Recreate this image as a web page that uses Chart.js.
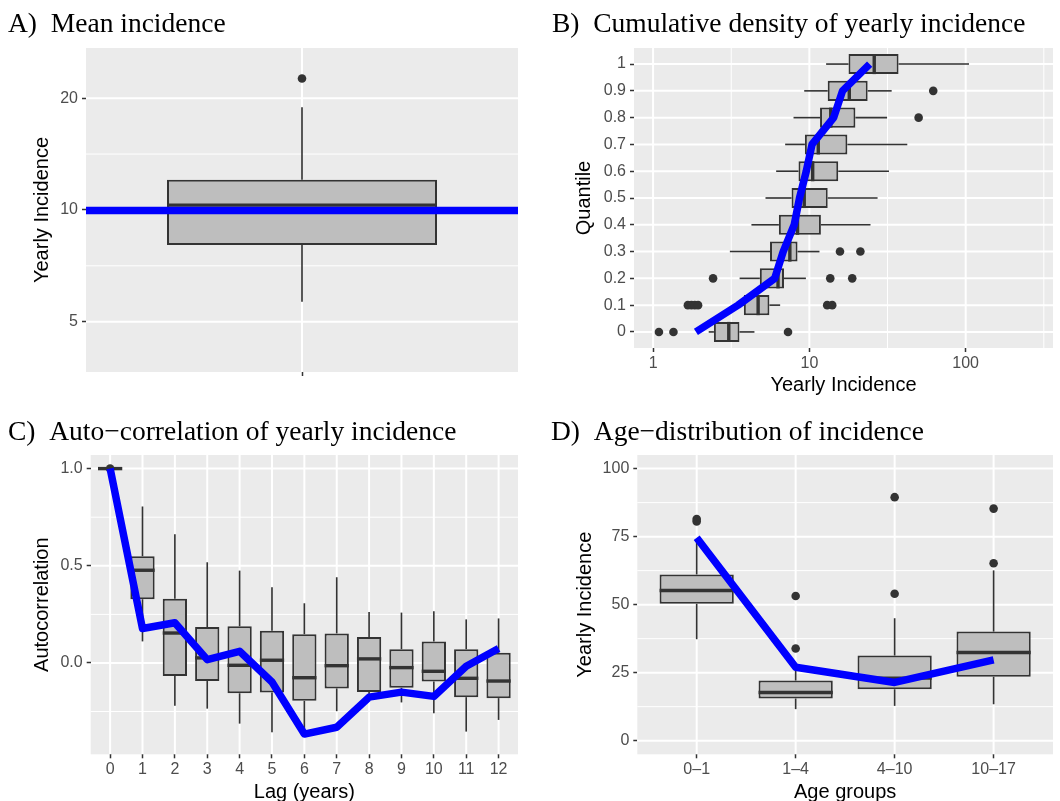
<!DOCTYPE html>
<html>
<head>
<meta charset="utf-8">
<title>Incidence panels</title>
<script src="https://cdn.jsdelivr.net/npm/chart.js@4.4.1/dist/chart.umd.min.js"></script>
<style>
  body { margin: 0; background: #ffffff; width: 1060px; height: 801px; overflow: hidden; position: relative; }
  canvas { position: absolute; }
</style>
</head>
<body>
<canvas id="chartA" width="530" height="400" style="left:0;top:0"></canvas>
<canvas id="chartB" width="530" height="400" style="left:530px;top:0"></canvas>
<canvas id="chartC" width="530" height="410" style="left:0;top:400px"></canvas>
<canvas id="chartD" width="530" height="410" style="left:530px;top:400px"></canvas>
<script>
// A) Mean incidence - one box on a log axis
const meanLow = [5.66];
const meanQ1 = [8.04];
const meanMedian = [10.3];
const meanQ3 = [12.05];
const meanHigh = [18.9];
const meanOutliers = [22.6];
const meanLine = 9.96;
const meanTicks = [5, 10, 20];
const meanMinor = [7.071, 14.142];
const meanYRange = [3.66, 27.3];
const meanXRange = [-0.6, 0.6];
const meanCats = [''];

// B) Cumulative density - one horizontal box per quantile
const quantLabels = ['0', '0.1', '0.2', '0.3', '0.4', '0.5', '0.6', '0.7', '0.8', '0.9', '1'];
const quantLow    = [2.27, 3.55, 3.58, 3.1, 4.26, 5.24, 6.13, 7.0, 7.92, 9.27, 12.8];
const quantQ1     = [2.45, 3.81, 4.82, 5.6, 6.38, 7.69, 8.52, 9.36, 11.7, 13.1, 17.8];
const quantMedian = [3.05, 4.7, 6.3, 7.5, 8.4, 9.27, 10.5, 11.4, 13.7, 18.0, 26.0];
const quantQ3     = [3.57, 5.55, 6.88, 8.4, 11.85, 13.1, 15.3, 17.5, 19.7, 23.6, 37.2];
const quantHigh   = [4.45, 6.5, 9.5, 11.6, 24.6, 27.3, 32.3, 42.3, 31.4, 33.6, 105];
const quantMean   = [1.88, 3.5, 6.0, 6.8, 8.0, 8.65, 9.55, 10.4, 14.3, 16.3, 24.3];
const quantOutRow = [0, 0, 0, 1, 1, 1, 1, 1, 1, 2, 2, 2, 3, 3, 8, 9];
const quantOutVal = [1.09, 1.35, 7.3, 1.67, 1.76, 1.85, 1.94, 13.0, 14.0, 2.42, 13.6, 18.8, 15.7, 21.2, 50, 62];
const quantTicks = [1, 10, 100];
const quantMinor = [3.162, 31.62, 316.2];
const quantXRange = [0.755, 362];

// C) Auto-correlation by lag
const lagLabels = ['0', '1', '2', '3', '4', '5', '6', '7', '8', '9', '10', '11', '12'];
const lagLow    = [1, 0.111, -0.22, -0.235, -0.312, -0.357, -0.36, -0.248, -0.17, -0.203, -0.259, -0.353, -0.293];
const lagQ1     = [1, 0.328, -0.067, -0.093, -0.156, -0.152, -0.195, -0.131, -0.15, -0.128, -0.095, -0.176, -0.181];
const lagMedian = [1, 0.477, 0.154, 0.026, -0.012, 0.014, -0.076, -0.014, 0.021, -0.024, -0.043, -0.079, -0.093];
const lagQ3     = [1, 0.549, 0.331, 0.185, 0.189, 0.166, 0.148, 0.152, 0.134, 0.071, 0.11, 0.071, 0.053];
const lagHigh   = [1, 0.805, 0.662, 0.518, 0.475, 0.39, 0.307, 0.441, 0.262, 0.259, 0.266, 0.224, 0.229];
const lagMean   = [1.0, 0.177, 0.207, 0.017, 0.06, -0.098, -0.366, -0.331, -0.176, -0.15, -0.172, -0.017, 0.074];
const lagOutIdx = [0];
const lagOutVal = [1.0];
const lagTicks = [0, 0.5, 1.0];
const lagMinor = [-0.25, 0.25, 0.75];
const lagYRange = [-0.47, 1.07];

// D) Age distribution
const ageGroups = ['0–1', '1–4', '4–10', '10–17'];
const ageLow    = [37.3, 11.6, 12.8, 13.4];
const ageQ1     = [50.3, 15.5, 18.9, 23.5];
const ageMedian = [55.2, 17.7, 23.0, 32.4];
const ageQ3     = [61.1, 22.1, 31.3, 40.1];
const ageHigh   = [73, 26, 45.0, 62.6];
const ageMean   = [74.6, 27.0, 21.4, 29.7];
const ageOutIdx = [0, 0, 1, 1, 2, 2, 3, 3];
const ageOutVal = [81.5, 80.6, 53.2, 33.9, 89.5, 54.0, 85.3, 65.2];
const ageTicks = [0, 25, 50, 75, 100];
const ageMinor = [12.5, 37.5, 62.5, 87.5];
const ageYRange = [-5, 105];

const SANS = '"Liberation Sans", Arial, Helvetica, sans-serif';
const SERIF = '"Liberation Serif", "Times New Roman", serif';
Chart.defaults.font.family = SANS;
Chart.defaults.animation = false;

// grey panel with white grid lines along the value axis, drawn under everything
const panelBackground = {
  id: 'panelBackground',
  beforeDraw(chart, args, opts) {
    const { ctx, chartArea: a, scales } = chart;
    const vLine = px => { ctx.beginPath(); ctx.moveTo(px, a.top); ctx.lineTo(px, a.bottom); ctx.stroke(); };
    const hLine = py => { ctx.beginPath(); ctx.moveTo(a.left, py); ctx.lineTo(a.right, py); ctx.stroke(); };
    ctx.save();
    ctx.fillStyle = '#EBEBEB';
    ctx.fillRect(a.left, a.top, a.right - a.left, a.bottom - a.top);
    ctx.strokeStyle = '#FFFFFF';
    ctx.lineWidth = 1;
    (opts.xMinor || []).forEach(v => vLine(scales.x.getPixelForValue(v)));
    (opts.yMinor || []).forEach(v => hLine(scales.y.getPixelForValue(v)));
    ctx.lineWidth = 2;
    (opts.xMajor || []).forEach(v => vLine(scales.x.getPixelForValue(v)));
    (opts.yMajor || []).forEach(v => hLine(scales.y.getPixelForValue(v)));
    ctx.restore();
  }
};

// category grid lines (outside each box), then whiskers and medians, right after the bars
const boxWhiskers = {
  id: 'boxWhiskers',
  afterDatasetDraw(chart, args) {
    const ds = chart.data.datasets[args.index];
    if (!ds.stats) return;
    const horizontal = chart.options.indexAxis === 'y';
    const vScale = horizontal ? chart.scales.x : chart.scales.y;
    const a = chart.chartArea;
    const s = ds.stats;
    const ctx = chart.ctx;
    const seg = (c, p1, p2) => {
      ctx.beginPath();
      if (horizontal) { ctx.moveTo(p1, c); ctx.lineTo(p2, c); }
      else { ctx.moveTo(c, p1); ctx.lineTo(c, p2); }
      ctx.stroke();
    };
    ctx.save();
    args.meta.data.forEach((bar, i) => {
      const p = bar.getProps(['x', 'y', 'width', 'height'], true);
      const c = horizontal ? p.y : p.x;
      const half = (horizontal ? p.height : p.width) / 2;
      const hi = vScale.getPixelForValue(s.high[i]);
      const lo = vScale.getPixelForValue(s.low[i]);
      const q1 = vScale.getPixelForValue(s.q1[i]);
      const q3 = vScale.getPixelForValue(s.q3[i]);
      ctx.lineCap = 'butt';
      ctx.strokeStyle = '#FFFFFF';
      ctx.lineWidth = 2;
      if (horizontal) { seg(c, a.left, lo); seg(c, hi, a.right); }
      else { seg(c, a.top, hi); seg(c, lo, a.bottom); }
      ctx.strokeStyle = '#333333';
      ctx.lineWidth = 1.6;
      seg(c, q3, hi);
      seg(c, q1, lo);
      ctx.lineWidth = 3.4;
      const m = vScale.getPixelForValue(s.median[i]);
      ctx.beginPath();
      if (horizontal) { ctx.moveTo(m, c - half); ctx.lineTo(m, c + half); }
      else { ctx.moveTo(c - half, m); ctx.lineTo(c + half, m); }
      ctx.stroke();
    });
    ctx.restore();
  }
};

const indexOf = labels => labels.map((l, i) => i);

function fixedTicks(values) {
  return scale => { scale.ticks = values.map(v => ({ value: v })); };
}

function gridStyle() {
  return {
    drawOnChartArea: false, offset: false,
    tickColor: '#333333', tickWidth: 1.5, tickLength: 4
  };
}

function tickStyle(padding, callback) {
  return { color: '#4D4D4D', font: { size: 16 }, padding: padding, autoSkip: false, maxRotation: 0, callback: callback };
}

function axisTitle(text, padding) {
  return { display: !!text, text: text || '', color: '#000000', font: { size: 20 }, padding: padding };
}

function boxDataset(points, stats, catPct) {
  return {
    type: 'bar',
    order: 3,
    data: points,
    stats: stats,
    backgroundColor: '#BEBEBE',
    borderColor: '#333333',
    borderWidth: 2,
    borderSkipped: false,
    barPercentage: 1,
    categoryPercentage: catPct
  };
}

function outlierDataset(points) {
  return {
    type: 'line',
    order: 2,
    data: points,
    showLine: false,
    pointRadius: 4.3,
    pointBackgroundColor: '#333333',
    pointBorderColor: '#333333',
    pointBorderWidth: 0
  };
}

function meanDataset(points) {
  return {
    type: 'line',
    order: 1,
    data: points,
    borderColor: '#0000FF',
    borderWidth: 7.5,
    borderJoinStyle: 'round',
    borderCapStyle: 'butt',
    pointRadius: 0,
    tension: 0,
    fill: false
  };
}

function baseOptions(title, titlePad, padding, grid, scales, indexAxis) {
  return {
    responsive: false,
    indexAxis: indexAxis || 'x',
    layout: { padding: padding },
    plugins: {
      legend: { display: false },
      tooltip: { enabled: false },
      title: {
        display: true, text: title, align: 'start', color: '#000000',
        font: { family: SERIF, size: 27.5, weight: 'normal' }, padding: titlePad
      },
      panelBackground: grid
    },
    scales: scales
  };
}

const topTitlePad = { top: 8.5, bottom: 6.5 };
const bottomTitlePad = { top: 16.5, bottom: 5.5 };

// ---- A
new Chart(document.getElementById('chartA'), {
  type: 'bar',
  data: {
    datasets: [
      boxDataset(meanQ1.map((q, i) => ({ x: i, y: [q, meanQ3[i]] })),
        { low: meanLow, q1: meanQ1, median: meanMedian, q3: meanQ3, high: meanHigh }, 0.625),
      outlierDataset(meanOutliers.map(v => ({ x: 0, y: v }))),
      meanDataset(meanXRange.map(x => ({ x: x, y: meanLine })))
    ]
  },
  options: baseOptions('A)  Mean incidence', topTitlePad, { left: 8, right: 12, top: 0, bottom: 0 },
    { yMajor: meanTicks, yMinor: meanMinor }, {
      x: {
        type: 'linear', offset: false, min: meanXRange[0], max: meanXRange[1],
        afterBuildTicks: fixedTicks(indexOf(meanCats)),
        afterFit: s => { s.height = 28; },
        ticks: tickStyle(2, v => meanCats[v]),
        grid: gridStyle(), border: { display: false }
      },
      y: {
        type: 'logarithmic', min: meanYRange[0], max: meanYRange[1],
        afterBuildTicks: fixedTicks(meanTicks),
        afterFit: s => { s.width = 78; },
        ticks: tickStyle(4, v => String(v)),
        grid: gridStyle(), border: { display: false },
        title: axisTitle('Yearly Incidence', { top: 22.7 })
      }
    }),
  plugins: [panelBackground, boxWhiskers]
});

// ---- B
const quantOutPoints = quantOutVal.map((v, i) => ({ x: v, y: quantOutRow[i] }));
new Chart(document.getElementById('chartB'), {
  type: 'bar',
  data: {
    datasets: [
      boxDataset(quantQ1.map((q, i) => ({ y: i, x: [q, quantQ3[i]] })),
        { low: quantLow, q1: quantQ1, median: quantMedian, q3: quantQ3, high: quantHigh }, 0.75),
      outlierDataset(quantOutPoints),
      meanDataset(quantMean.map((v, i) => ({ x: v, y: i })))
    ]
  },
  options: baseOptions('B)  Cumulative density of yearly incidence', topTitlePad,
    { left: 22, right: 7, top: 0, bottom: 0 },
    { xMajor: quantTicks, xMinor: quantMinor }, {
      x: {
        type: 'logarithmic', min: quantXRange[0], max: quantXRange[1],
        afterBuildTicks: fixedTicks(quantTicks),
        afterFit: s => { s.height = 52; },
        ticks: tickStyle(2, v => String(v)),
        grid: gridStyle(), border: { display: false },
        title: axisTitle('Yearly Incidence', { top: 0, bottom: 3 })
      },
      y: {
        type: 'linear', offset: false, min: -0.6, max: quantLabels.length - 0.4,
        afterBuildTicks: fixedTicks(indexOf(quantLabels)),
        afterFit: s => { s.width = 82; },
        ticks: tickStyle(4, v => quantLabels[v]),
        grid: gridStyle(), border: { display: false },
        title: axisTitle('Quantile', { top: 20.6 })
      }
    }, 'y'),
  plugins: [panelBackground, boxWhiskers]
});

// ---- C
new Chart(document.getElementById('chartC'), {
  type: 'bar',
  data: {
    datasets: [
      boxDataset(lagQ1.map((q, i) => ({ x: i, y: [q, lagQ3[i]] })),
        { low: lagLow, q1: lagQ1, median: lagMedian, q3: lagQ3, high: lagHigh }, 0.75),
      outlierDataset(lagOutVal.map((v, i) => ({ x: lagOutIdx[i], y: v }))),
      meanDataset(lagMean.map((v, i) => ({ x: i, y: v })))
    ]
  },
  options: baseOptions('C)  Auto\u2212correlation of yearly incidence', bottomTitlePad,
    { left: 8, right: 12, top: 0, bottom: 0 },
    { yMajor: lagTicks, yMinor: lagMinor }, {
      x: {
        type: 'linear', offset: false, min: -0.6, max: lagLabels.length - 0.4,
        afterBuildTicks: fixedTicks(indexOf(lagLabels)),
        afterFit: s => { s.height = 55.7; },
        ticks: tickStyle(2, v => lagLabels[v]),
        grid: gridStyle(), border: { display: false },
        title: axisTitle('Lag (years)', { top: 0, bottom: 6 })
      },
      y: {
        type: 'linear', min: lagYRange[0], max: lagYRange[1],
        afterBuildTicks: fixedTicks(lagTicks),
        afterFit: s => { s.width = 82.7; },
        ticks: tickStyle(4, v => v.toFixed(1)),
        grid: gridStyle(), border: { display: false },
        title: axisTitle('Autocorrelation', { top: 22.4 })
      }
    }),
  plugins: [panelBackground, boxWhiskers]
});

// ---- D
new Chart(document.getElementById('chartD'), {
  type: 'bar',
  data: {
    datasets: [
      boxDataset(ageQ1.map((q, i) => ({ x: i, y: [q, ageQ3[i]] })),
        { low: ageLow, q1: ageQ1, median: ageMedian, q3: ageQ3, high: ageHigh }, 0.75),
      outlierDataset(ageOutVal.map((v, i) => ({ x: ageOutIdx[i], y: v }))),
      meanDataset(ageMean.map((v, i) => ({ x: i, y: v })))
    ]
  },
  options: baseOptions('D)  Age\u2212distribution of incidence', bottomTitlePad,
    { left: 21, right: 7, top: 0, bottom: 0 },
    { yMajor: ageTicks, yMinor: ageMinor }, {
      x: {
        type: 'linear', offset: false, min: -0.6, max: ageGroups.length - 0.4,
        afterBuildTicks: fixedTicks(indexOf(ageGroups)),
        afterFit: s => { s.height = 55.7; },
        ticks: tickStyle(2, v => ageGroups[v]),
        grid: gridStyle(), border: { display: false },
        title: axisTitle('Age groups', { top: 0, bottom: 6 })
      },
      y: {
        type: 'linear', min: ageYRange[0], max: ageYRange[1],
        afterBuildTicks: fixedTicks(ageTicks),
        afterFit: s => { s.width = 86.3; },
        ticks: tickStyle(4, v => String(v)),
        grid: gridStyle(), border: { display: false },
        title: axisTitle('Yearly Incidence', { top: 22.3 })
      }
    }),
  plugins: [panelBackground, boxWhiskers]
});
</script>
</body>
</html>
